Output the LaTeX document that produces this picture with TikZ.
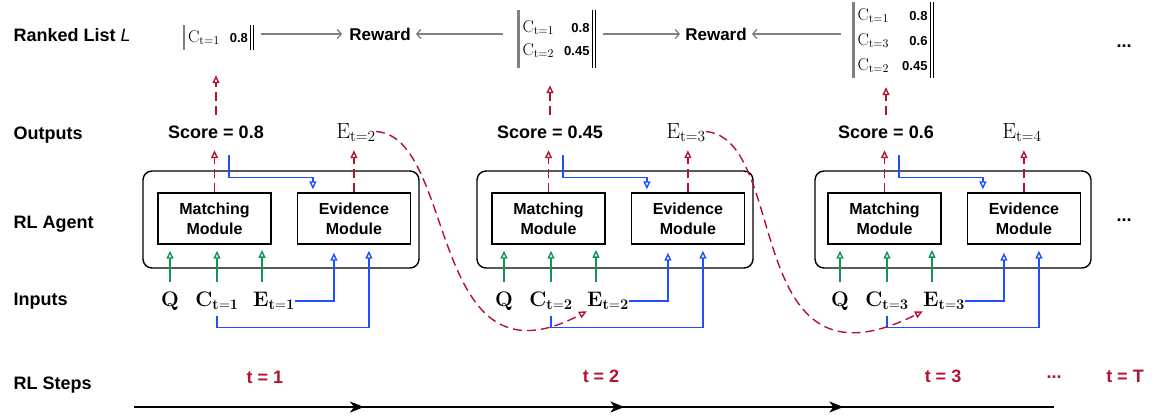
\RequirePackage{fix-cm}
\documentclass[tikz,border=0pt]{standalone}
\usepackage{amsmath}
\usepackage[no-math]{fontspec}
\setmainfont{Liberation Sans}
\usetikzlibrary{arrows.meta,positioning,decorations.markings}

\definecolor{myred}{RGB}{180,18,48}
\definecolor{mygreen}{RGB}{16,150,80}
\definecolor{myblue}{RGB}{30,80,255}
\definecolor{mygray}{RGB}{128,128,128}

\newcommand{\lscore}[1]{{\bfseries\fontsize{13}{15}\selectfont #1}}

\tikzset{
  rowlabel/.style={anchor=base west, font=\bfseries\fontsize{18}{20}\selectfont},
  module/.style={draw, line width=1.4pt, minimum width=113pt, minimum height=51pt, align=center, font=\bfseries\fontsize{16}{20}\selectfont},
  agent/.style={draw, line width=1.4pt, rounded corners=9pt, minimum width=276pt, minimum height=97pt},
  outlabel/.style={anchor=base, inner sep=0pt, text height=13pt, text depth=0pt, font=\bfseries\fontsize{18}{20}\selectfont},
  outmath/.style={outlabel, font=\fontsize{22}{24}\selectfont},
  inlabel/.style={anchor=base, inner sep=0pt, text height=15pt, text depth=5pt, font=\fontsize{21}{24}\selectfont},
  ranked/.style={inner xsep=4pt, inner ysep=1pt, font=\fontsize{17}{23}\selectfont},
  listbar/.style={draw=mygray, line width=2.6pt},
  listend/.style={draw=black, double, double distance=2pt, line width=0.9pt},
  reward/.style={inner xsep=5pt, font=\bfseries\fontsize{17}{20}\selectfont},
  steplabel/.style={anchor=base, text=myred, font=\bfseries\fontsize{18}{20}\selectfont},
  redarr/.style={draw=myred, line width=1.4pt, dash pattern=on 9pt off 5pt, -{Triangle[open, length=8pt, width=7pt]}},
  grnarr/.style={draw=mygreen, line width=1.4pt, -{Triangle[open, length=8pt, width=7pt]}, shorten <=9pt, shorten >=6pt},
  bluarr/.style={draw=myblue, line width=1.4pt, -{Triangle[open, length=8pt, width=7pt]}},
  grayarr/.style={draw=mygray, line width=1.3pt, -{Straight Barb[length=4pt, width=9pt]}},
  timeline/.style={draw=black, line width=1.5pt, postaction={decorate}, decoration={markings,
    mark=at position 0.25 with {\arrow{Stealth[length=14pt, width=11pt, inset=4pt]}},
    mark=at position 0.533 with {\arrow{Stealth[length=14pt, width=11pt, inset=4pt]}},
    mark=at position 0.771 with {\arrow{Stealth[length=14pt, width=11pt, inset=4pt]}}}}
}

\begin{document}
\begin{tikzpicture}[x=1pt, y=-1pt]
  \useasboundingbox (0,0) rectangle (1158,418);

  \node[rowlabel] (lrank) at (10,41)  {Ranked List {\mdseries\itshape L}};
  \node[rowlabel] (lout)  at (10,139) {Outputs};
  \node[rowlabel] (lagt)  at (10,228) {RL Agent};
  \node[rowlabel] (linp)  at (10,305) {Inputs};
  \node[rowlabel] (lstp)  at (10,389) {RL Steps};

  \node[ranked] (l1) at (218,37.5) {\begin{tabular}{@{}l@{\hspace{10pt}}r@{}}
    $\mathrm{C}_{\mathrm{t=1}}$ & \lscore{0.8}\end{tabular}};
  \node[ranked, inner ysep=6pt] (l2) at (556,39) {\begin{tabular}{@{}l@{\hspace{10pt}}r@{}}
    $\mathrm{C}_{\mathrm{t=1}}$ & \lscore{0.8}\\
    $\mathrm{C}_{\mathrm{t=2}}$ & \lscore{0.45}\end{tabular}};
  \node[ranked, inner ysep=0.5pt, font=\fontsize{17}{25}\selectfont] (l3) at (892.5,40) {\begin{tabular}{@{}l@{\hspace{13pt}}r@{}}
    $\mathrm{C}_{\mathrm{t=1}}$ & \lscore{0.8}\\
    $\mathrm{C}_{\mathrm{t=3}}$ & \lscore{0.6}\\
    $\mathrm{C}_{\mathrm{t=2}}$ & \lscore{0.45}\end{tabular}};
  \draw[listbar] (l1.north west) -- (l1.south west);
  \draw[listend] (l1.north east) -- (l1.south east);
  \draw[listbar] (l2.north west) -- (l2.south west);
  \draw[listend] (l2.north east) -- (l2.south east);
  \draw[listbar] (l3.north west) -- (l3.south west);
  \draw[listend] (l3.north east) -- (l3.south east);

  \node[reward] (rw1) at (380,34) {Reward};
  \node[reward] (rw2) at (716,34) {Reward};
  \node[rowlabel, anchor=base] (dots1) at (1124,47) {...};

  \draw[grayarr, shorten <=9pt, shorten >=2pt] (l1.east |- rw1.west) -- (rw1.west);
  \draw[grayarr, shorten <=15pt] (l2.west |- rw1.east) -- (rw1.east);
  \draw[grayarr, shorten <=9pt] (l2.east |- rw2.west) -- (rw2.west);
  \draw[grayarr, shorten <=12pt] (l3.west |- rw2.east) -- (rw2.east);

  \node[agent] (ag1) at (281,219.5) {};
  \node[module] (mm1) at (214.5,218.5) {Matching\\Module};
  \node[module, right=25pt of mm1] (em1) {Evidence\\Module};
  \node[outlabel] (sc1) at (216,138) {Score = 0.8};
  \node[outmath] (eo1) at (356,138) {$\mathrm{E}_{\mathrm{t=2}}$};
  \node[inlabel] (q1)  at (170,306) {$\mathbf{Q}$};
  \node[inlabel] (ci1) at (217,306) {$\mathbf{C}_{\mathbf{t=1}}$};
  \node[inlabel] (ei1) at (274,306) {$\mathbf{E}_{\mathbf{t=1}}$};

  \node[agent] (ag2) at (615,219.5) {};
  \node[module] (mm2) at (548.5,218.5) {Matching\\Module};
  \node[module, right=25pt of mm2] (em2) {Evidence\\Module};
  \node[outlabel] (sc2) at (550,138) {Score = 0.45};
  \node[outmath] (eo2) at (686,138) {$\mathrm{E}_{\mathrm{t=3}}$};
  \node[inlabel] (q2)  at (504,306) {$\mathbf{Q}$};
  \node[inlabel] (ci2) at (551,306) {$\mathbf{C}_{\mathbf{t=2}}$};
  \node[inlabel] (ei2) at (608,306) {$\mathbf{E}_{\mathbf{t=2}}$};

  \node[agent] (ag3) at (953,219.5) {};
  \node[module] (mm3) at (884.5,218.5) {Matching\\Module};
  \node[module, right=25pt of mm3] (em3) {Evidence\\Module};
  \node[outlabel] (sc3) at (886,138) {Score = 0.6};
  \node[outmath] (eo3) at (1022,138) {$\mathrm{E}_{\mathrm{t=4}}$};
  \node[inlabel] (q3)  at (840,306) {$\mathbf{Q}$};
  \node[inlabel] (ci3) at (887,306) {$\mathbf{C}_{\mathbf{t=3}}$};
  \node[inlabel] (ei3) at (944,306) {$\mathbf{E}_{\mathbf{t=3}}$};
  \node[rowlabel, anchor=base] (dots2) at (1124,221) {...};

  \draw[redarr, shorten >=12pt] (mm1.north) -- (mm1.north |- sc1.south);
  \draw[redarr, shorten >=12pt] (em1.north) -- (em1.north |- eo1.south);
  \draw[redarr, shorten <=10pt, shorten >=25pt] (sc1.north) -- (sc1.north |- l1.south);
  \draw[bluarr, shorten <=17pt, shorten >=3pt] ([xshift=13pt]sc1.south) -- ++(0,39) -| ([xshift=-41pt]em1.north);
  \draw[grnarr] (q1.north) -- (q1.north |- mm1.south);
  \draw[grnarr] (ci1.north) -- (ci1.north |- mm1.south);
  \draw[grnarr] ([xshift=-12pt]ei1.north) -- ++(0,-47);
  \draw[bluarr, shorten >=8pt] (ei1.east) -| ([xshift=-20pt]em1.south);
  \draw[bluarr, shorten <=5pt, shorten >=6pt] (ci1.south) -- ++(0,16) -| ([xshift=15pt]em1.south);

  \draw[redarr, shorten >=12pt] (mm2.north) -- (mm2.north |- sc2.south);
  \draw[redarr, shorten >=12pt] (em2.north) -- (em2.north |- eo2.south);
  \draw[redarr, shorten <=10pt, shorten >=17pt] (sc2.north) -- (sc2.north |- l2.south);
  \draw[bluarr, shorten <=17pt, shorten >=3pt] ([xshift=13pt]sc2.south) -- ++(0,39) -| ([xshift=-41pt]em2.north);
  \draw[grnarr] (q2.north) -- (q2.north |- mm2.south);
  \draw[grnarr] (ci2.north) -- (ci2.north |- mm2.south);
  \draw[grnarr] ([xshift=-12pt]ei2.north) -- ++(0,-47);
  \draw[bluarr, shorten >=8pt] (ei2.east) -| ([xshift=-20pt]em2.south);
  \draw[bluarr, shorten <=5pt, shorten >=6pt] (ci2.south) -- ++(0,16) -| ([xshift=15pt]em2.south);

  \draw[redarr, shorten >=12pt] (mm3.north) -- (mm3.north |- sc3.south);
  \draw[redarr, shorten >=12pt] (em3.north) -- (em3.north |- eo3.south);
  \draw[redarr, shorten <=10pt, shorten >=9pt] (sc3.north) -- (sc3.north |- l3.south);
  \draw[bluarr, shorten <=17pt, shorten >=3pt] ([xshift=13pt]sc3.south) -- ++(0,39) -| ([xshift=-41pt]em3.north);
  \draw[grnarr] (q3.north) -- (q3.north |- mm3.south);
  \draw[grnarr] (ci3.north) -- (ci3.north |- mm3.south);
  \draw[grnarr] ([xshift=-12pt]ei3.north) -- ++(0,-47);
  \draw[bluarr, shorten >=8pt] (ei3.east) -| ([xshift=-20pt]em3.south);
  \draw[bluarr, shorten <=5pt, shorten >=6pt] (ci3.south) -- ++(0,16) -| ([xshift=15pt]em3.south);

  \draw[redarr] (eo1.east) .. controls +(82,5) and +(-160,85) .. (ei2.south west);
  \draw[redarr] (eo2.east) .. controls +(85,8) and +(-183,92) .. (ei3.south west);

  \coordinate (ts) at (134,407);
  \coordinate (te) at (1054,407);
  \draw[timeline] (ts) -- (te);
  \node[steplabel] (st1) at (265,383) {t = 1};
  \node[steplabel] (st2) at (601,382) {t = 2};
  \node[steplabel] (st3) at (943,382) {t = 3};
  \node[steplabel] (stdots) at (1054,378) {...};
  \node[steplabel] (stT) at (1125,382) {t = T};
\end{tikzpicture}
\end{document}
